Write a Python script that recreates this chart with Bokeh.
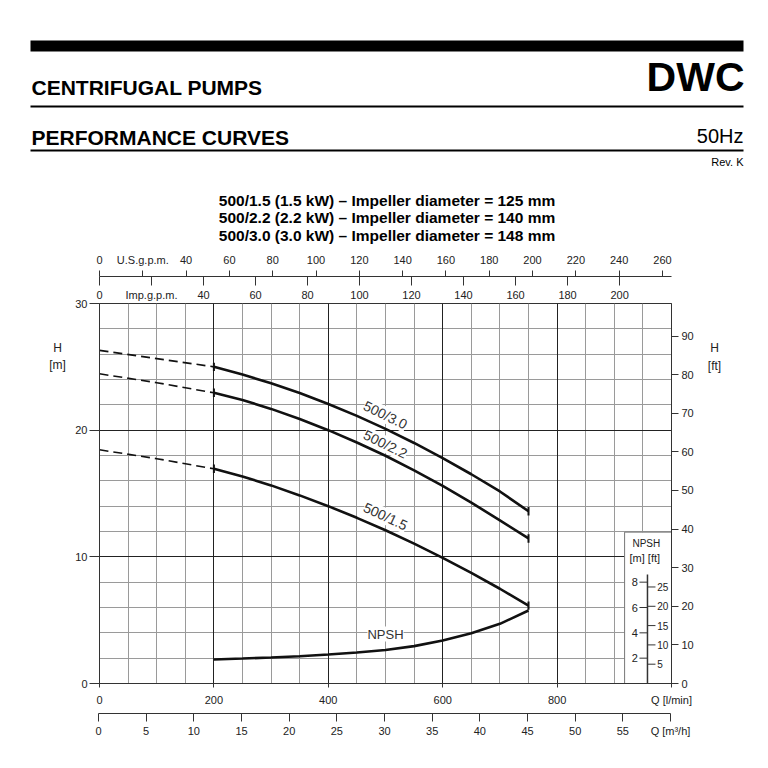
from bokeh.plotting import figure
from bokeh.models import Range1d, LinearAxis, FixedTicker, Grid, Label, Plot
from bokeh.layouts import column, row
from bokeh.embed import file_html
from bokeh.resources import INLINE
from bokeh.core.properties import value

# ---------------- data ----------------
q_dash = [0, 100, 200]
h30_dash = [26.3, 25.65, 25.0]
h22_dash = [24.45, 23.75, 22.95]
h15_dash = [18.45, 17.75, 16.95]

q = [200, 250, 300, 350, 400, 450, 500, 550, 600, 650, 700, 750]
h30 = [25.0, 24.39, 23.70, 22.93, 22.07, 21.13, 20.10, 18.99, 17.80, 16.52, 15.16, 13.6]
h22 = [22.95, 22.38, 21.68, 20.88, 20.0, 19.03, 17.98, 16.83, 15.6, 14.28, 12.88, 11.45]
h15 = [16.95, 16.35, 15.64, 14.85, 14.0, 13.08, 12.10, 11.04, 9.92, 8.73, 7.48, 6.15]
npsh = [1.9, 1.97, 2.05, 2.15, 2.29, 2.45, 2.65, 2.95, 3.39, 3.97, 4.71, 5.76]

curve_names = ["500/3.0", "500/2.2", "500/1.5"]

# tick values
h_ticks = [0, 10, 20, 30]
ft_ticks = [0, 10, 20, 30, 40, 50, 60, 70, 80, 90]
lmin_ticks = [0, 200, 400, 600, 800, 1000]
m3h_ticks = [0, 5, 10, 15, 20, 25, 30, 35, 40, 45, 50, 55, 60]
us_ticks = [0, 20, 40, 60, 80, 100, 120, 140, 160, 180, 200, 220, 240, 260]
imp_ticks = [0, 20, 40, 60, 80, 100, 120, 140, 160, 180, 200, 220]
npsh_m_ticks = [2, 4, 6, 8]
npsh_ft_ticks = [5, 10, 15, 20, 25]

grid_q_major = [200, 400, 600, 800]
grid_q_minor = [50, 100, 150, 250, 300, 350, 450, 500, 550, 650, 700, 750, 850, 900, 950]
grid_h_major = [10, 20]
grid_h_minor = [2, 4, 6, 8, 12, 14, 16, 18, 22, 24, 26, 28]

title_lines = [
    "500/1.5 (1.5 kW) \u2013 Impeller diameter = 125 mm",
    "500/2.2 (2.2 kW) \u2013 Impeller diameter = 140 mm",
    "500/3.0 (3.0 kW) \u2013 Impeller diameter = 148 mm",
]

L_US = 3.78541
L_IMP = 4.54609
M_FT = 0.3048

FONT = "Liberation Sans"
INK = "#111111"
AXC = "#333333"
HAS_FA = "frame_align" in Plot.properties()

# ---------------- layout constants (page pixels) ----------------
PAGE = 768
HDR_H = 250
F_LEFT, F_TOP, F_W, F_H = 98, 303, 572, 380
SIDE_L = 72
SIDE_R = 70
CH_BOT = 24                      # chart border below the frame (l/min scale)
STRIP_TOP = F_TOP + F_H + CH_BOT  # page y where the m3/h strip starts
TOPB = F_TOP - HDR_H
HPX = F_H / 30.0


def hy(py):
    return (F_TOP + F_H - py) / HPX


def bare(fig):
    fig.outline_line_color = None
    if HAS_FA:
        fig.frame_align = False
    return fig


def style(ax, size="11px"):
    ax.axis_line_color = AXC
    ax.major_tick_line_color = AXC
    ax.minor_tick_line_color = None
    ax.major_tick_in = 0
    ax.minor_tick_in = 0
    ax.minor_tick_out = 0
    ax.major_label_text_font = FONT
    ax.major_label_text_font_size = size
    ax.major_label_text_color = "#222222"
    return ax


def tick_only(rng, ticks, out):
    ax = LinearAxis(x_range_name=rng, ticker=FixedTicker(ticks=[], minor_ticks=ticks))
    ax.axis_line_color = None
    ax.major_tick_line_color = AXC
    ax.major_tick_out = out
    ax.major_tick_in = 0
    ax.minor_tick_out = out
    ax.minor_tick_in = 0
    ax.minor_tick_line_color = AXC
    ax.major_label_standoff = 0
    return ax


# ---------------- header (page pixel coordinates) ----------------
hdr = bare(figure(width=PAGE, height=HDR_H, x_range=Range1d(0, PAGE),
                  y_range=Range1d(HDR_H, 0), output_backend="svg",
                  toolbar_location=None, x_axis_type=None, y_axis_type=None,
                  min_border=0))
hdr.quad(left=[30, 30, 30], right=[743, 743, 743], top=[40, 105, 149],
         bottom=[51, 107, 151], fill_color="black", line_color=None)

hk = dict(text_baseline="middle", text_color="black", text_font=FONT)
hdr.add_layout(Label(x=31, y=87, text="CENTRIFUGAL PUMPS", text_font_style="bold",
                     text_font_size="21px", text_align="left", **hk))
hdr.add_layout(Label(x=744, y=76, text="DWC", text_font_style="bold",
                     text_font_size="41px", text_align="right", **hk))
hdr.add_layout(Label(x=31, y=136.5, text="PERFORMANCE CURVES", text_font_style="bold",
                     text_font_size="21px", text_align="left", **hk))
hdr.add_layout(Label(x=743, y=135, text="50Hz", text_font_size="20px",
                     text_align="right", **hk))
hdr.add_layout(Label(x=743, y=161.5, text="Rev. K", text_font_size="11px",
                     text_align="right", **hk))
for i, t in enumerate(title_lines):
    hdr.add_layout(Label(x=386.5, y=199.5 + 17.5 * i, text=t, text_font_style="bold",
                         text_font_size="15.5px", text_align="center", **hk))

# ---------------- chart ----------------
p = figure(frame_width=F_W, frame_height=F_H,
           x_range=Range1d(0, 1000), y_range=Range1d(0, 30),
           output_backend="svg", toolbar_location=None,
           x_axis_type=None, y_axis_type=None,
           min_border_left=F_LEFT - SIDE_L, min_border_right=PAGE - SIDE_R - F_LEFT - F_W,
           min_border_top=TOPB, min_border_bottom=CH_BOT,
           outline_line_color=AXC, outline_line_width=1)
if HAS_FA:
    p.frame_align = False
p.extra_x_ranges = {"imp": Range1d(0, 1000 / L_IMP),
                    "us": Range1d(0, 1000 / L_US)}
p.extra_y_ranges = {"ft": Range1d(0, 30 / M_FT)}

left = style(LinearAxis(ticker=FixedTicker(ticks=h_ticks)))
left.major_tick_out = 10
left.major_label_standoff = 2
p.add_layout(left, "left")

right = style(LinearAxis(y_range_name="ft", ticker=FixedTicker(ticks=ft_ticks)))
right.major_tick_out = 7
right.major_label_standoff = 3
p.add_layout(right, "right")

b1 = style(LinearAxis(ticker=FixedTicker(ticks=lmin_ticks)))
b1.major_label_overrides = {1000: "Q [l/min]"}
b1.major_tick_out = 4
b1.major_label_standoff = 6
p.add_layout(b1, "below")

# top: Imp. labels (below the shared line), Imp. ticks (down), U.S. scale (up)
t1 = style(LinearAxis(x_range_name="imp", ticker=FixedTicker(ticks=imp_ticks)))
t1.major_label_overrides = {20: "Imp.g.p.m."}
t1.axis_line_color = None
t1.major_tick_line_color = None
t1.major_tick_out = 0
t1.major_label_standoff = 3
p.add_layout(t1, "above")
p.add_layout(tick_only("imp", imp_ticks, 9), "above")

t3 = style(LinearAxis(x_range_name="us", ticker=FixedTicker(ticks=us_ticks)))
t3.major_label_overrides = {20: "U.S.g.p.m."}
t3.major_tick_out = 6
t3.major_label_standoff = 5
p.add_layout(t3, "above")

# grids
p.add_layout(Grid(dimension=0, ticker=FixedTicker(ticks=grid_q_minor),
                  grid_line_color="#9a9a9a", grid_line_width=1))
p.add_layout(Grid(dimension=1, ticker=FixedTicker(ticks=grid_h_minor),
                  grid_line_color="#9a9a9a", grid_line_width=1))
p.add_layout(Grid(dimension=0, ticker=FixedTicker(ticks=grid_q_major),
                  grid_line_color="#222222", grid_line_width=1))
p.add_layout(Grid(dimension=1, ticker=FixedTicker(ticks=grid_h_major),
                  grid_line_color="#222222", grid_line_width=1))

# curve labels (under the glyphs, masking the grid)
lab_kw = dict(text_align="center", text_baseline="middle", text_font=FONT,
              background_fill_color="white", text_color="#333333", level="underlay")
p.add_layout(Label(x=500, y=21.2, text=curve_names[0], angle=-26, angle_units="deg",
                   text_font_size="14px", **lab_kw))
p.add_layout(Label(x=500, y=18.9, text=curve_names[1], angle=-26, angle_units="deg",
                   text_font_size="14px", **lab_kw))
p.add_layout(Label(x=500, y=13.2, text=curve_names[2], angle=-25, angle_units="deg",
                   text_font_size="14px", **lab_kw))
p.add_layout(Label(x=500, y=3.9, text="NPSH", text_font_size="13px", **lab_kw))

# curves
for hd, hs in [(h30_dash, h30), (h22_dash, h22), (h15_dash, h15)]:
    p.line(q_dash, hd, line_color=INK, line_width=1.6, line_dash="9 5")
    p.line(q, hs, line_color=INK, line_width=2.6)
    p.segment(x0=[q[0], q[-1]], y0=[hs[0] - 0.33, hs[-1] - 0.33],
              x1=[q[0], q[-1]], y1=[hs[0] + 0.33, hs[-1] + 0.33],
              line_color=INK, line_width=2)
p.line(q, npsh, line_color=INK, line_width=2.6)

# NPSH scale inset
p.quad(left=[918], right=[1000], bottom=[0], top=[11.95],
       fill_color="white", line_color="#777777", line_width=1)
AX_Q = 958
p.segment(x0=[AX_Q], y0=[0], x1=[AX_Q], y1=[8.6], line_color=AXC, line_width=1.5)
p.segment(x0=[AX_Q - 14] * len(npsh_m_ticks), y0=npsh_m_ticks,
          x1=[AX_Q] * len(npsh_m_ticks), y1=npsh_m_ticks,
          line_color=AXC, line_width=1)
ft_in_m = [t * M_FT for t in npsh_ft_ticks]
p.segment(x0=[AX_Q] * len(ft_in_m), y0=ft_in_m,
          x1=[AX_Q + 14] * len(ft_in_m), y1=ft_in_m,
          line_color=AXC, line_width=1)
p.text(x=[AX_Q - 17] * len(npsh_m_ticks), y=npsh_m_ticks,
       text=[str(t) for t in npsh_m_ticks], text_align="right", text_baseline="middle",
       text_font=value(FONT), text_font_size="11px", text_color="#222222")
p.text(x=[AX_Q + 17] * len(ft_in_m), y=ft_in_m,
       text=[str(t) for t in npsh_ft_ticks], text_align="left", text_baseline="middle",
       text_font=value(FONT), text_font_size="10px", text_color="#222222")
p.text(x=[956], y=[11.03], text=["NPSH"], text_align="center", text_baseline="middle",
       text_font=value(FONT), text_font_size="10px", text_color="#222222")
p.text(x=[956], y=[9.89], text=["[m]  [ft]"], text_align="center", text_baseline="middle",
       text_font=value(FONT), text_font_size="11px", text_color="#222222")


# ---------------- side strips holding the H axis titles ----------------
def side(x0, x1, w):
    return bare(figure(width=w, height=STRIP_TOP - HDR_H, x_range=Range1d(x0, x1),
                       y_range=Range1d(0, 30), output_backend="svg",
                       toolbar_location=None, x_axis_type=None, y_axis_type=None,
                       min_border_left=0, min_border_right=0,
                       min_border_top=TOPB, min_border_bottom=CH_BOT))


ax_kw = dict(text_align="center", text_baseline="middle", text_font=FONT,
             text_font_size="12px", text_color="#222222")
sl = side(0, SIDE_L, SIDE_L)
sl.add_layout(Label(x=57, y=hy(347), text="H", **ax_kw))
sl.add_layout(Label(x=57, y=hy(364), text="[m]", **ax_kw))
sr = side(PAGE - SIDE_R, PAGE, SIDE_R)
sr.add_layout(Label(x=713, y=hy(347), text="H", **ax_kw))
sr.add_layout(Label(x=713, y=hy(365), text="[ft]", **ax_kw))

# ---------------- m3/h scale strip (line on top, ticks down, labels below) -------------
STRIP_FRAME_TOP = 736
st = bare(figure(width=PAGE, height=PAGE - STRIP_TOP, x_range=Range1d(0, 1000),
                 y_range=Range1d(0, 1), output_backend="svg", toolbar_location=None,
                 x_axis_type=None, y_axis_type=None,
                 min_border_left=F_LEFT, min_border_right=PAGE - F_LEFT - F_W,
                 min_border_top=STRIP_FRAME_TOP - STRIP_TOP, min_border_bottom=0))
st.extra_x_ranges = {"m3h": Range1d(0, 60)}
a1 = style(LinearAxis(x_range_name="m3h", ticker=FixedTicker(ticks=m3h_ticks)))
a1.major_label_overrides = {60: "Q [m\u00b3/h]"}
a1.axis_line_color = None
a1.major_tick_line_color = None
a1.major_tick_out = 0
a1.major_label_standoff = 1
st.add_layout(a1, "above")
st.add_layout(tick_only("m3h", m3h_ticks, 8), "above")
a3 = LinearAxis(x_range_name="m3h", ticker=FixedTicker(ticks=[], minor_ticks=m3h_ticks))
a3.axis_line_color = AXC
a3.axis_line_width = 1
a3.major_tick_line_color = None
a3.minor_tick_line_color = None
a3.major_tick_out = 0
a3.minor_tick_out = 0
a3.minor_tick_in = 0
a3.major_label_standoff = 0
st.add_layout(a3, "above")

page = column(hdr, row(sl, p, sr, spacing=0), st, spacing=0)
open("out.html", "w").write(file_html(page, INLINE))
